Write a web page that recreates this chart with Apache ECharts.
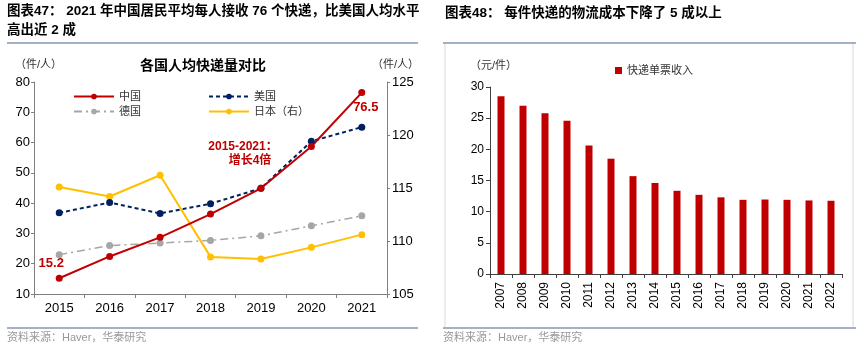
<!DOCTYPE html>
<html>
<head>
<meta charset="utf-8">
<script src="https://cdn.jsdelivr.net/npm/echarts@6/dist/echarts.min.js"></script>
<style>
  html, body { margin: 0; padding: 0; background: #fff; }
  #chartBox { width: 865px; height: 350px; }
</style>
</head>
<body>
<div id="chartBox"></div>
<script>
// 图表47 数据
const years = ["2015", "2016", "2017", "2018", "2019", "2020", "2021"];
const china = [15.2, 22.4, 28.7, 36.4, 44.9, 58.7, 76.5];
const usa = [36.8, 40.2, 36.6, 39.8, 44.9, 60.4, 65.1];
const germany = [23.0, 26.0, 26.8, 27.7, 29.2, 32.5, 35.8];
const japan = [115.1, 114.2, 116.2, 108.5, 108.3, 109.4, 110.6];

// 图表48 数据
const barYears = ["2007", "2008", "2009", "2010", "2011", "2012", "2013", "2014",
  "2015", "2016", "2017", "2018", "2019", "2020", "2021", "2022"];
const unitRevenue = [28.5, 27.0, 25.8, 24.6, 20.6, 18.5, 15.7, 14.6,
  13.35, 12.7, 12.3, 11.9, 11.95, 11.9, 11.8, 11.75];

const FONT = "'Liberation Sans', 'Noto Sans CJK SC', sans-serif";
const RED = "#C00000";
const NAVY = "#002060";
const GREY = "#A6A6A6";
const GOLD = "#FFC000";
const LINE_BLUE = "#8497B0";

const chartDom = document.getElementById("chartBox");
const myChart = echarts.init(chartDom);

const legendBase = {
  itemWidth: 40,
  itemHeight: 7,
  itemGap: 5,
  textStyle: { fontFamily: FONT, fontSize: 11, color: "#333" },
};

const chinaData = china.map((v, i) => {
  if (i === 0) {
    return { value: v, label: { show: true, position: "top", offset: [-8, 0] } };
  }
  if (i === china.length - 1) {
    return { value: v, label: { show: true, position: "bottom", offset: [4, 0] } };
  }
  return v;
});

const option = {
  animation: false,
  textStyle: { fontFamily: FONT },
  graphic: [
    // 左侧标题与框线
    { type: "text", left: 7, top: 5, style: { text: "图表47： 2021 年中国居民平均每人接收 76 个快递，比美国人均水平", font: "bold 13.5px " + FONT, fill: "#000" } },
    { type: "text", left: 7, top: 24, style: { text: "高出近 2 成", font: "bold 13.5px " + FONT, fill: "#000" } },
    { type: "line", shape: { x1: 7, y1: 43, x2: 418, y2: 43 }, style: { stroke: LINE_BLUE, lineWidth: 1.5 } },
    { type: "line", shape: { x1: 7, y1: 328, x2: 418, y2: 328 }, style: { stroke: LINE_BLUE, lineWidth: 1.5 } },
    { type: "text", left: 7, top: 332, style: { text: "资料来源：Haver，华泰研究", font: "11px " + FONT, fill: "#999" } },
    { type: "text", x: 203, y: 66, style: { text: "各国人均快递量对比", font: "bold 14px " + FONT, fill: "#000", align: "center", verticalAlign: "middle" } },
    { type: "text", x: 15, y: 65, style: { text: "（件/人）", font: "11px " + FONT, fill: "#333", verticalAlign: "middle" } },
    { type: "text", x: 372, y: 65, style: { text: "（件/人）", font: "11px " + FONT, fill: "#333", verticalAlign: "middle" } },
    { type: "text", x: 243, y: 147, style: { text: "2015-2021：", font: "bold 12px " + FONT, fill: RED, align: "center", verticalAlign: "middle" } },
    { type: "text", x: 250, y: 161, style: { text: "增长4倍", font: "bold 12px " + FONT, fill: RED, align: "center", verticalAlign: "middle" } },

    // 右侧标题与框线
    { type: "text", left: 445, top: 7, style: { text: "图表48： 每件快递的物流成本下降了 5 成以上", font: "bold 13.5px " + FONT, fill: "#000" } },
    { type: "line", shape: { x1: 445, y1: 43, x2: 445, y2: 327 }, style: { stroke: "#D9D9D9", lineWidth: 1 } },
    { type: "line", shape: { x1: 853, y1: 43, x2: 853, y2: 327 }, style: { stroke: "#D9D9D9", lineWidth: 1 } },
    { type: "line", shape: { x1: 443, y1: 43, x2: 856, y2: 43 }, style: { stroke: LINE_BLUE, lineWidth: 1.5 } },
    { type: "line", shape: { x1: 443, y1: 328, x2: 856, y2: 328 }, style: { stroke: LINE_BLUE, lineWidth: 1.5 } },
    { type: "text", left: 443, top: 332, style: { text: "资料来源：Haver，华泰研究", font: "11px " + FONT, fill: "#999" } },
    { type: "text", x: 470, y: 66, style: { text: "（元/件）", font: "11px " + FONT, fill: "#333", verticalAlign: "middle" } },
  ],
  legend: [
    { ...legendBase, data: ["中国"], left: 68, top: 86 },
    { ...legendBase, data: ["美国"], left: 203, top: 86 },
    { ...legendBase, data: ["德国"], left: 68, top: 101 },
    { ...legendBase, data: ["日本（右）"], left: 203, top: 101 },
    { ...legendBase, data: ["快递单票收入"], left: 610, top: 60, itemWidth: 7, itemHeight: 7, icon: "rect" },
  ],
  grid: [
    { left: 34, right: 478, top: 82, bottom: 56 },
    { left: 490, right: 23, top: 87, bottom: 76 },
  ],
  xAxis: [
    {
      type: "category",
      gridIndex: 0,
      data: years,
      boundaryGap: true,
      axisLine: { lineStyle: { color: "#808080" } },
      axisTick: { show: true, length: 4, lineStyle: { color: "#808080" } },
      axisLabel: { fontSize: 13, color: "#000", margin: 8, fontFamily: FONT },
    },
    {
      type: "category",
      gridIndex: 1,
      data: barYears,
      boundaryGap: true,
      axisLine: { lineStyle: { color: "#404040" } },
      axisTick: { show: true, length: 4, lineStyle: { color: "#404040" } },
      axisLabel: { fontSize: 12, color: "#000", rotate: 90, margin: 8, fontFamily: FONT },
    },
  ],
  yAxis: [
    {
      type: "value",
      gridIndex: 0,
      min: 10,
      max: 80,
      interval: 10,
      splitLine: { show: false },
      axisLine: { show: true, lineStyle: { color: "#808080" } },
      axisTick: { show: true, length: 3, lineStyle: { color: "#808080" } },
      axisLabel: { fontSize: 13, color: "#000", margin: 4, fontFamily: FONT },
    },
    {
      type: "value",
      gridIndex: 0,
      position: "right",
      min: 105,
      max: 125,
      interval: 5,
      splitLine: { show: false },
      axisLine: { show: true, lineStyle: { color: "#808080" } },
      axisTick: { show: true, length: 3, lineStyle: { color: "#808080" } },
      axisLabel: { fontSize: 13, color: "#000", margin: 5, fontFamily: FONT },
    },
    {
      type: "value",
      gridIndex: 1,
      min: 0,
      max: 30,
      interval: 5,
      splitLine: { show: false },
      axisLine: { show: true, lineStyle: { color: "#404040" } },
      axisTick: { show: true, length: 4, lineStyle: { color: "#404040" } },
      axisLabel: { fontSize: 12, color: "#000", margin: 6, fontFamily: FONT },
    },
  ],
  series: [
    {
      name: "德国",
      type: "line",
      xAxisIndex: 0,
      yAxisIndex: 0,
      data: germany,
      symbol: "circle",
      symbolSize: 7,
      lineStyle: { color: GREY, width: 1.5, type: [8, 4, 2, 4] },
      itemStyle: { color: GREY },
    },
    {
      name: "日本（右）",
      type: "line",
      xAxisIndex: 0,
      yAxisIndex: 1,
      data: japan,
      symbol: "circle",
      symbolSize: 7,
      lineStyle: { color: GOLD, width: 2 },
      itemStyle: { color: GOLD },
    },
    {
      name: "美国",
      type: "line",
      xAxisIndex: 0,
      yAxisIndex: 0,
      data: usa,
      symbol: "circle",
      symbolSize: 7,
      lineStyle: { color: NAVY, width: 2, type: [4, 3] },
      itemStyle: { color: NAVY },
    },
    {
      name: "中国",
      type: "line",
      xAxisIndex: 0,
      yAxisIndex: 0,
      data: chinaData,
      symbol: "circle",
      symbolSize: 7,
      lineStyle: { color: RED, width: 2 },
      itemStyle: { color: RED },
      label: { color: RED, fontWeight: "bold", fontSize: 13, fontFamily: FONT },
    },
    {
      name: "快递单票收入",
      type: "bar",
      xAxisIndex: 1,
      yAxisIndex: 2,
      data: unitRevenue,
      barWidth: 7,
      itemStyle: { color: RED },
    },
  ],
};

myChart.setOption(option);
</script>
</body>
</html>
